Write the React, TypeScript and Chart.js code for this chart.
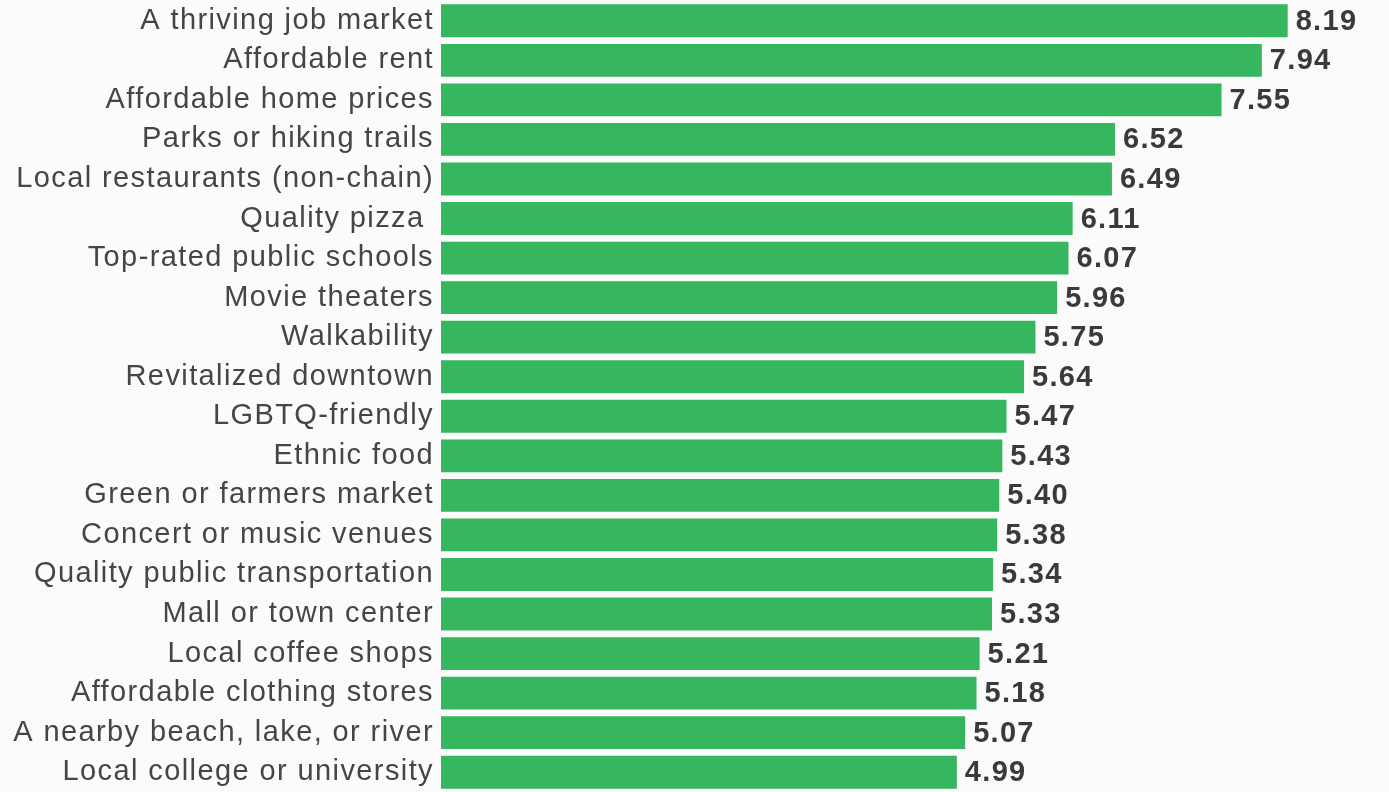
import React, { useEffect, useRef } from "react";
import { Chart, registerables } from "chart.js";

Chart.register(...registerables);

const categories = [
  "A thriving job market",
  "Affordable rent",
  "Affordable home prices",
  "Parks or hiking trails",
  "Local restaurants (non-chain)",
  "Quality pizza ",
  "Top-rated public schools",
  "Movie theaters",
  "Walkability",
  "Revitalized downtown",
  "LGBTQ-friendly",
  "Ethnic food",
  "Green or farmers market",
  "Concert or music venues",
  "Quality public transportation",
  "Mall or town center",
  "Local coffee shops",
  "Affordable clothing stores",
  "A nearby beach, lake, or river",
  "Local college or university",
];

const scores = [
  8.19, 7.94, 7.55, 6.52, 6.49, 6.11, 6.07, 5.96, 5.75, 5.64, 5.47, 5.43, 5.4,
  5.38, 5.34, 5.33, 5.21, 5.18, 5.07, 4.99,
];

const FONT = "'Liberation Sans', Arial, Helvetica, sans-serif";

const valueLabels = {
  id: "valueLabels",
  afterDatasetsDraw(chart: any) {
    const ctx = chart.ctx;
    const meta = chart.getDatasetMeta(0);
    ctx.save();
    ctx.font = `bold 29px ${FONT}`;
    (ctx as any).letterSpacing = "1.3px";
    ctx.fillStyle = "#3a3a3a";
    ctx.textAlign = "left";
    ctx.textBaseline = "middle";
    meta.data.forEach((bar: any, i: number) => {
      ctx.fillText(scores[i].toFixed(2), bar.x + 8, bar.y + 1);
    });
    ctx.restore();
  },
};

const bgPlugin = {
  id: "bg",
  beforeDraw(chart: any) {
    const ctx = chart.ctx;
    (ctx as any).letterSpacing = "1.4px";
    ctx.save();
    ctx.fillStyle = "#fbfbfb";
    ctx.fillRect(0, 0, chart.width, chart.height);
    ctx.restore();
  },
};

export default function App() {
  const ref = useRef<HTMLCanvasElement | null>(null);
  useEffect(() => {
    if (!ref.current) return;
    const chart = new Chart(ref.current, {
      type: "bar",
      data: {
        labels: categories,
        datasets: [
          {
            data: scores,
            backgroundColor: "#36b65e",
            borderWidth: 0,
            barPercentage: 0.83,
            categoryPercentage: 1,
          },
        ],
      },
      options: {
        indexAxis: "y",
        animation: false,
        responsive: false,
        maintainAspectRatio: false,
        layout: { padding: { top: 1, bottom: 0, left: 0, right: 0 } },
        plugins: {
          legend: { display: false },
          tooltip: { enabled: false },
          title: { display: false },
        },
        scales: {
          x: {
            display: false,
            min: 0,
            max: 9.17,
          },
          y: {
            afterFit(scale: any) {
              scale.width = 441;
              scale.paddingTop = 0;
              scale.paddingBottom = 0;
            },
            grid: { display: false, drawTicks: false },
            border: { display: false },
            ticks: {
              padding: 7,
              color: "#454545",
              font: { size: 29, family: FONT },
              autoSkip: false,
            },
          },
        },
      },
      plugins: [bgPlugin, valueLabels],
    });
    return () => chart.destroy();
  }, []);
  return (
    <div style={{ position: "absolute", left: 0, top: 0, width: 1389, height: 792 }}>
      <canvas ref={ref} width={1389} height={792} style={{ display: "block" }} />
    </div>
  );
}
